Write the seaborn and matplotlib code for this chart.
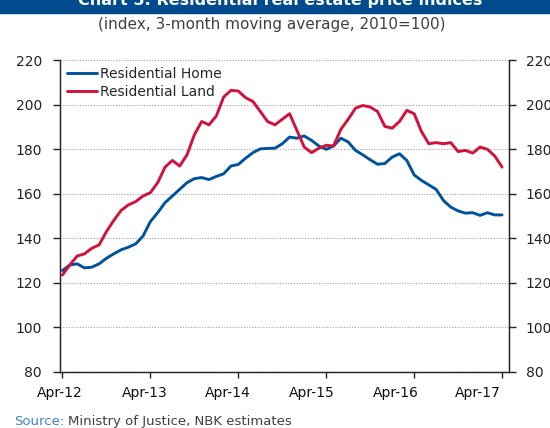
import numpy as np
import pandas as pd
import seaborn as sns
import matplotlib.pyplot as plt
from matplotlib.patches import Rectangle

# monthly data, Apr-2012 .. Apr-2017 (index, 3-month moving average, 2010=100)
months = pd.date_range("2012-04-01", "2017-04-01", freq="MS")
home = [125.5, 128, 128.5, 126.7, 127, 128.5, 131, 133, 134.8, 136, 137.5, 141,
        147.5, 151.5, 156, 159, 162, 165, 166.8, 167.3, 166.4, 167.8, 169, 172.5,
        173.2, 176, 178.5, 180.2, 180.4, 180.5, 182.5, 185.5, 185, 186, 184, 181.5,
        180, 181.5, 185, 183.3, 179.5, 177.5, 175.3, 173.3, 173.6, 176.5, 178, 175,
        168.5, 166, 164, 162, 157, 154, 152.3, 151.3, 151.5, 150.3, 151.5, 150.5, 150.5]
land = [123.5, 128, 132, 133, 135.5, 137, 143, 148, 152.5, 155, 156.5, 159,
        160.5, 165, 172, 175, 172.5, 177.5, 186.5, 192.5, 191, 195, 203.5, 206.5,
        206.2, 203.2, 201.5, 197, 192.5, 191, 193.5, 196, 188.5, 181, 178.5, 180.5,
        181.8, 181.5, 189, 193.5, 198.5, 199.7, 199, 197, 190.3, 189.5, 192.5, 197.5,
        196, 188, 182.5, 183, 182.5, 183, 179, 179.5, 178.3, 181, 180, 177, 172]
tick_labels = ["Apr-12", "Apr-13", "Apr-14", "Apr-15", "Apr-16", "Apr-17"]
y_ticks = [80, 100, 120, 140, 160, 180, 200, 220]

blue = "#00529b"
red = "#d3123b"

df = pd.DataFrame({"month": np.arange(len(months)),
                   "Residential Home": home,
                   "Residential Land": land})
long = df.melt(id_vars="month", var_name="series", value_name="value")

sns.set_style("white")
plt.rcParams["font.family"] = ["DejaVu Sans"]

fig = plt.figure(figsize=(5.5, 4.28), dpi=100)
ax = fig.add_axes([0.109, 0.1315, 0.8165, 0.7275])

sns.lineplot(data=long, x="month", y="value", hue="series",
             palette=[blue, red], linewidth=2.1, ax=ax)

ax.set_xlim(-0.34, 60.95)
ax.set_ylim(80, 220)
ax.set_yticks(y_ticks)
# tick marks every April, labels sit a little to the left as in the source
ax.set_xticks(np.arange(0, 61, 12))
ax.set_xticklabels([""] * 6)
ax.set_xticks([-0.34, 11.26, 22.59, 34.06, 45.53, 56.72], minor=True)
ax.set_xticklabels(tick_labels, minor=True)
ax.set_xlabel("")
ax.set_ylabel("")

ax.set_axisbelow(True)
ax.yaxis.grid(True, linestyle=(0, (1, 1.5)), color="#a0a0a0", linewidth=0.8)

ax.spines["top"].set_visible(False)
for s in ["left", "bottom", "right"]:
    ax.spines[s].set_color("#222222")
    ax.spines[s].set_linewidth(1)

ax.tick_params(axis="y", direction="out", length=5, width=1, labelsize=10,
               pad=8, colors="#222222", left=True)
ax.tick_params(axis="x", which="major", direction="out", length=4, width=1,
               colors="#222222", bottom=True)
ax.tick_params(axis="x", which="minor", length=0, labelsize=10, pad=10,
               labelcolor="#111111")

ax2 = ax.twinx()
ax2.set_ylim(80, 220)
ax2.set_yticks(y_ticks)
ax2.spines["top"].set_visible(False)
ax2.spines["right"].set_color("#222222")
ax2.tick_params(axis="y", direction="out", length=5, width=1, labelsize=10,
                pad=7, colors="#222222", right=True)

ax.legend(loc="upper left", bbox_to_anchor=(0.0, 1.0), frameon=False,
          fontsize=10, handlelength=2.2, handletextpad=0.2,
          labelspacing=0.25, borderaxespad=0.2, borderpad=0.3)

# title banner (cut at the top) and subtitle
fig.patches.append(Rectangle((0, 1 - 13 / 428), 1, 13 / 428,
                             transform=fig.transFigure, color="#004b8d", zorder=0))
fig.text(0.51, 1 - 5 / 428, "Chart 5: Residential real estate price indices",
         color="white", weight="bold", ha="center", va="baseline", fontsize=11.5)
fig.text(0.495, 1 - 25 / 428, "(index, 3-month moving average, 2010=100)",
         ha="center", va="center", fontsize=11, color="#404040")

src = fig.text(14 / 550, 1 - 425 / 428, "Source:", color="#3f82cc",
               fontsize=9.5, va="baseline", ha="left")
ax.annotate("Ministry of Justice, NBK estimates", xy=(1, 0), xycoords=src,
            xytext=(3, 0), textcoords="offset points", color="#404040",
            fontsize=9.5, va="bottom", ha="left", annotation_clip=False)

plt.savefig("out.png", dpi=100)
